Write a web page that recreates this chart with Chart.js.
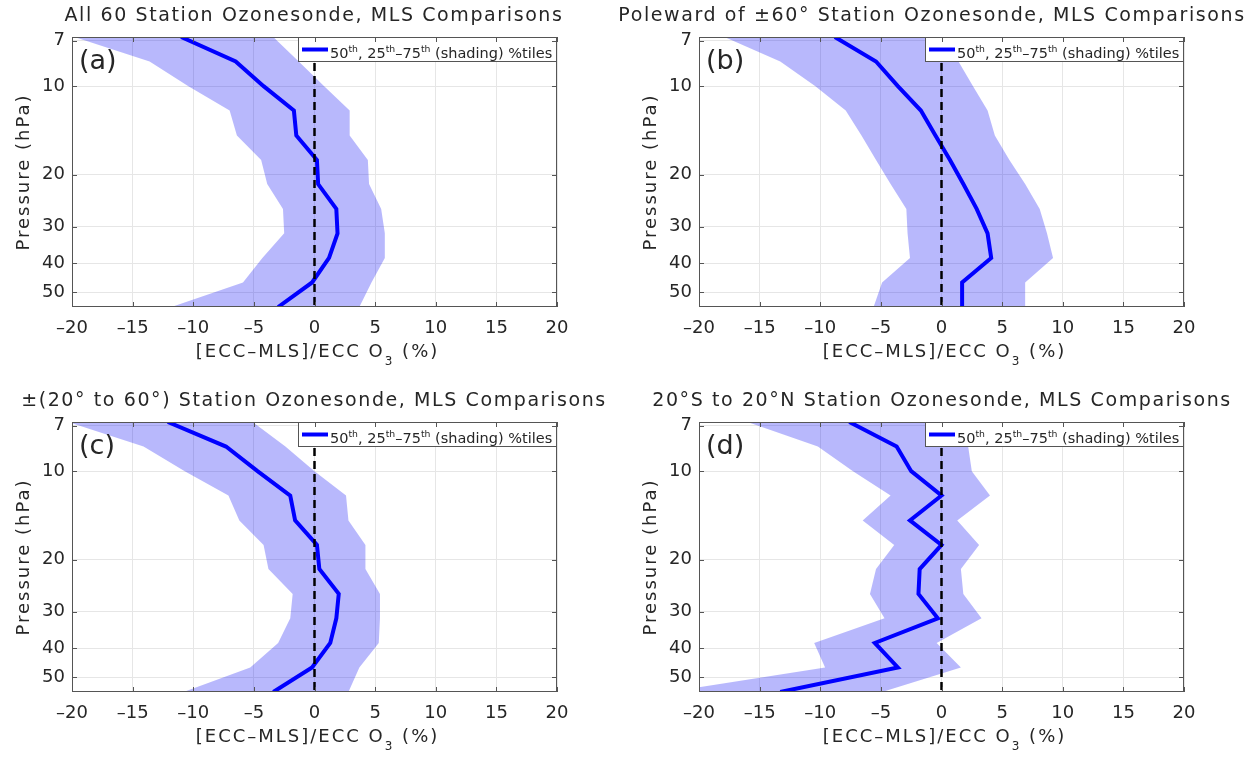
<!DOCTYPE html>
<html>
<head>
<meta charset="utf-8">
<script src="https://cdn.jsdelivr.net/npm/chart.js@4.4.0/dist/chart.umd.min.js"></script>
<style>
  html, body { margin: 0; padding: 0; background: #fff; }
  body { width: 1254px; height: 763px; position: relative; overflow: hidden; }
  canvas { position: absolute; }
</style>
</head>
<body>
<canvas id="pa" width="627" height="378" style="left:0;top:0"></canvas>
<canvas id="pb" width="654" height="378" style="left:600px;top:0"></canvas>
<canvas id="pc" width="627" height="378" style="left:0;top:385px"></canvas>
<canvas id="pd" width="654" height="378" style="left:600px;top:385px"></canvas>
<script>
// MLS pressure levels (hPa), top to bottom
const pressure = [6.81, 8.25, 10.0, 12.1, 14.7, 17.8, 21.5, 26.1, 31.6, 38.3, 46.4, 56.2];
const yTicks = [7, 10, 20, 30, 40, 50];
const xTicks = [-20, -15, -10, -5, 0, 5, 10, 15, 20];

// (a) all 60 stations
const medA = [-11.0, -6.5, -4.2, -1.7, -1.5, 0.2, 0.3, 1.8, 1.9, 1.2, -0.2, -3.0];
const p25A = [-19.8, -13.6, -10.4, -7.0, -6.4, -4.4, -3.9, -2.6, -2.5, -4.3, -5.9, -11.8];
const p75A = [-3.4, -1.3, 0.8, 2.9, 2.9, 4.4, 4.5, 5.5, 5.8, 5.8, 4.7, 3.7];

// (b) poleward of 60
const medB = [-8.8, -5.4, -3.6, -1.7, -0.5, 0.7, 1.8, 2.9, 3.8, 4.1, 1.7, 1.7];
const p25B = [-17.9, -13.3, -10.4, -7.9, -6.6, -5.4, -4.2, -2.9, -2.8, -2.6, -4.9, -5.6];
const p75B = [0.4, 1.4, 2.6, 3.8, 4.4, 5.6, 6.9, 8.1, 8.7, 9.2, 6.9, 6.9];

// (c) 20 to 60
const medC = [-12.1, -7.3, -4.7, -2.0, -1.6, 0.2, 0.4, 2.0, 1.8, 1.3, -0.2, -3.4];
const p25C = [-20.3, -14.1, -10.7, -7.1, -6.2, -4.2, -3.8, -1.8, -2.0, -3.0, -5.3, -10.8];
const p75C = [-5.1, -2.4, 0.0, 2.6, 2.8, 4.2, 4.2, 5.4, 5.4, 5.3, 3.7, 2.8];

// (d) tropics
const medD = [-7.6, -3.7, -2.5, 0.0, -2.6, 0.0, -1.8, -1.9, -0.3, -5.5, -3.6, -13.3];
const p25D = [-16.0, -10.2, -7.3, -4.2, -6.5, -3.9, -5.4, -5.9, -4.7, -10.5, -9.6, -22.5];
const p75D = [2.0, 2.2, 2.5, 4.0, 1.3, 3.1, 1.6, 1.8, 3.3, -0.4, 1.6, -4.9];

const titles = [
  'All 60 Station Ozonesonde, MLS Comparisons',
  'Poleward of \u00b160\u00b0 Station Ozonesonde, MLS Comparisons',
  '\u00b1(20\u00b0 to 60\u00b0) Station Ozonesonde, MLS Comparisons',
  '20\u00b0S to 20\u00b0N Station Ozonesonde, MLS Comparisons'
];
const letters = ['(a)', '(b)', '(c)', '(d)'];

const FONT = '"DejaVu Sans", sans-serif';
const INK = '#262626';

// draw a run of text pieces [text, size, dy] starting/centred at x
function drawRich(ctx, parts, x, y, align, spacing) {
  ctx.letterSpacing = spacing + 'px';
  let total = 0;
  parts.forEach(p => { ctx.font = p[1] + 'px ' + FONT; total += ctx.measureText(p[0]).width; });
  let cx = align === 'center' ? x - total / 2 : x;
  ctx.textAlign = 'left';
  ctx.textBaseline = 'alphabetic';
  parts.forEach(p => {
    ctx.font = p[1] + 'px ' + FONT;
    ctx.fillText(p[0], cx, y + p[2]);
    cx += ctx.measureText(p[0]).width;
  });
}

const panelDecor = {
  id: 'panelDecor',
  beforeDraw(chart) {
    chart.ctx.letterSpacing = '0px';
  },
  afterDatasetsDraw(chart) {
    // legend box, top right
    const ctx = chart.ctx, a = chart.chartArea;
    ctx.save();
    const bx = a.right - 259, by = a.top, bw = 259, bh = 25;
    ctx.fillStyle = '#fff';
    ctx.fillRect(bx, by, bw, bh);
    ctx.strokeStyle = '#555';
    ctx.lineWidth = 1;
    ctx.strokeRect(bx + 0.5, by + 0.5, bw - 1, bh - 1);
    ctx.strokeStyle = '#0000ff';
    ctx.lineWidth = 4;
    ctx.beginPath();
    ctx.moveTo(bx + 4, by + 12.5);
    ctx.lineTo(bx + 30, by + 12.5);
    ctx.stroke();
    ctx.fillStyle = INK;
    drawRich(ctx, [
      ['50', 14.5, 0], ['th', 9.3, -6], [', 25', 14.5, 0], ['th', 9.3, -6],
      ['\u201375', 14.5, 0], ['th', 9.3, -6], [' (shading) %tiles', 14.5, 0]
    ], bx + 32, by + 20.5, 'left', 0);
    ctx.restore();
  },
  afterDraw(chart, args, opts) {
    const ctx = chart.ctx, a = chart.chartArea;
    const xs = chart.scales.x, ys = chart.scales.y;
    ctx.save();
    // axes box and inward ticks
    ctx.strokeStyle = '#555';
    ctx.lineWidth = 1;
    ctx.strokeRect(a.left + 0.5, a.top + 0.5, a.right - a.left - 1, a.bottom - a.top - 1);
    ctx.beginPath();
    xTicks.forEach(v => {
      const px = Math.round(xs.getPixelForValue(v)) + 0.5;
      ctx.moveTo(px, a.bottom); ctx.lineTo(px, a.bottom - 5);
      ctx.moveTo(px, a.top); ctx.lineTo(px, a.top + 5);
    });
    yTicks.forEach(v => {
      const py = Math.round(ys.getPixelForValue(v)) + 0.5;
      ctx.moveTo(a.left, py); ctx.lineTo(a.left + 5, py);
      ctx.moveTo(a.right, py); ctx.lineTo(a.right - 5, py);
    });
    ctx.stroke();

    ctx.fillStyle = INK;
    // title
    drawRich(ctx, [[opts.title, 19, 0]], opts.titleX, 21, 'center', 1.6);
    // panel letter
    drawRich(ctx, [[opts.letter, 27, 0]], a.left + 7, 68.5, 'left', 0);
    // x axis label with subscript
    drawRich(ctx, [['[ECC\u2013MLS]/ECC O', 18, 0], ['3', 12, 8], [' (%)', 18, 0]],
      (a.left + a.right) / 2 + 3, 357, 'center', 2);
    // y axis label
    ctx.translate(a.left - 43, (a.top + a.bottom) / 2);
    ctx.rotate(-Math.PI / 2);
    drawRich(ctx, [['Pressure (hPa)', 18, 0]], 0, 0, 'center', 2);
    ctx.restore();
  }
};

function makePanel(id, med, p25, p75, idx, leftW, rightPad, titleX) {
  const last = pressure.length - 1;
  const band = pressure.map((p, i) => ({ x: p25[i], y: p }))
    .concat(pressure.map((p, i) => ({ x: p75[i], y: p })).reverse());
  new Chart(document.getElementById(id), {
    type: 'line',
    data: {
      datasets: [
        {
          label: '50th',
          data: pressure.map((p, i) => ({ x: med[i], y: p })),
          borderColor: '#0000ff', borderWidth: 4, pointRadius: 0,
          fill: false, tension: 0, order: 2
        },
        {
          label: 'zero',
          data: [{ x: 0, y: pressure[0] }, { x: 0, y: pressure[last] }],
          borderColor: '#000', borderWidth: 2.5, borderDash: [8, 5],
          pointRadius: 0, fill: false, order: 1
        },
        {
          label: '25th-75th',
          data: band,
          borderWidth: 0, borderColor: 'rgba(0,0,0,0)',
          backgroundColor: 'rgba(0,0,245,0.28)',
          fill: 'shape', pointRadius: 0, tension: 0, order: 3
        }
      ]
    },
    options: {
      responsive: false,
      animation: false,
      devicePixelRatio: 1,
      layout: { padding: { left: 0, top: 37, right: rightPad, bottom: 0 } },
      plugins: {
        legend: { display: false },
        tooltip: { enabled: false },
        panelDecor: { title: titles[idx], letter: letters[idx], titleX: titleX }
      },
      scales: {
        x: {
          type: 'linear', min: -20, max: 20,
          afterBuildTicks: s => { s.ticks = xTicks.map(v => ({ value: v })); },
          afterFit: s => { s.height = 71; },
          grid: { color: '#e6e6e6', drawTicks: false },
          border: { display: false },
          ticks: {
            color: INK, padding: 11, maxRotation: 0,
            font: { family: FONT, size: 18 },
            callback: v => (v < 0 ? '\u2013' + Math.abs(v) : String(v))
          }
        },
        y: {
          type: 'logarithmic', reverse: true,
          min: pressure[0], max: pressure[last],
          afterBuildTicks: s => { s.ticks = yTicks.map(v => ({ value: v })); },
          afterFit: s => { s.width = leftW; },
          grid: { color: '#e6e6e6', drawTicks: false },
          border: { display: false },
          ticks: {
            color: INK, padding: 7,
            font: { family: FONT, size: 18 },
            callback: v => String(v)
          }
        }
      }
    },
    plugins: [panelDecor]
  });
}

makePanel('pa', medA, p25A, p75A, 0, 72, 70, 314);
makePanel('pb', medB, p25B, p75B, 1, 99, 70, 332);
makePanel('pc', medC, p25C, p75C, 2, 72, 70, 314);
makePanel('pd', medD, p25D, p75D, 3, 99, 70, 342);
</script>
</body>
</html>
